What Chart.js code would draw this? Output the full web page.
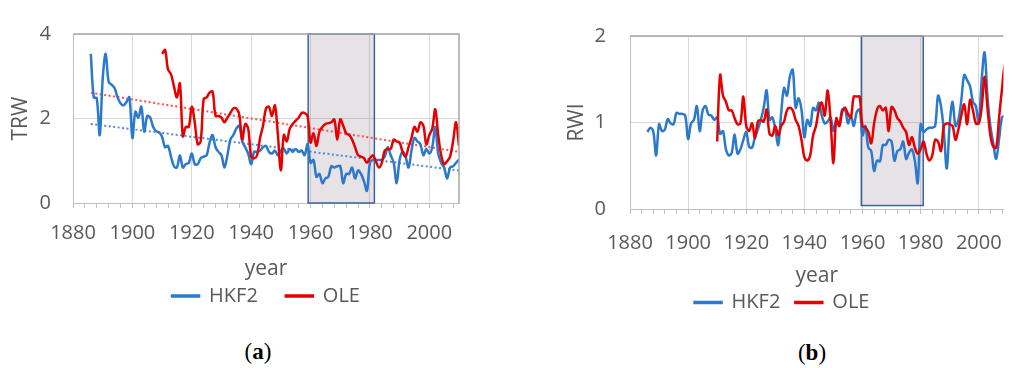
<!DOCTYPE html>
<html>
<head>
<meta charset="utf-8">
<script src="https://cdn.jsdelivr.net/npm/chart.js@4"></script>
<style>
  html, body { margin: 0; padding: 0; background: #fff; overflow: hidden; }
  body { width: 1019px; height: 368px; position: relative; }
  canvas { position: absolute; top: 0; }
  #chartA { left: 0; }
  #chartB { left: 545px; }
  .cap { position: absolute; width: 100px; text-align: center; font: 23px "Liberation Serif", serif; color: #000; line-height: 26px; }
</style>
</head>
<body>
<canvas id="chartA" width="500" height="320"></canvas>
<canvas id="chartB" width="474" height="330"></canvas>
<div class="cap" style="left:208px; top:339px">(<b>a</b>)</div>
<div class="cap" style="left:762px; top:340px">(<b>b</b>)</div>
<script>
// first year of each series
const hkf2Start = 1886;
const oleStart = 1910;

// (a) TRW, one value per year
const trwHKF2 = [
  3.53, 2.50, 2.48, 1.61,
  2.94, 3.53, 2.87, 2.80, 2.72, 2.50, 2.36, 2.31, 2.39, 2.50,
  1.54, 2.16, 2.02, 2.28, 1.69, 2.06, 2.02, 1.80, 1.70, 1.67,
  1.57, 1.32, 1.35, 1.10, 0.87, 0.84, 1.13, 0.84, 0.92, 0.95,
  1.17, 0.92, 0.92, 1.06, 1.10, 1.13, 1.43, 1.61, 1.32, 1.21,
  1.13, 0.84, 1.13, 1.50, 1.61, 1.76, 1.83, 1.46, 1.32, 1.17,
  0.92, 1.21, 1.21, 1.24, 1.32, 1.35, 1.21, 1.17, 1.24, 1.13,
  1.24, 1.28, 1.17, 1.28, 1.21, 1.28, 1.21, 1.24, 1.13, 1.39,
  0.95, 1.02, 0.62, 0.69, 0.47, 0.58, 0.62, 0.87, 0.84, 0.87,
  0.87, 0.47, 0.69, 0.69, 0.84, 0.58, 0.77, 0.69, 0.51, 0.29,
  0.95, 1.02, 1.02, 1.02, 1.02, 1.10, 1.32, 1.13, 0.95, 0.47,
  1.02, 1.21, 1.10, 0.84, 1.24, 1.54, 1.46, 1.39, 1.13, 1.28,
  1.17, 1.32, 1.80, 1.17, 0.95, 0.84, 0.58, 0.84, 0.87, 0.95,
  1.03
];
const trwOLE = [
  3.53, 3.62, 3.16, 3.05, 2.76, 2.50, 2.83, 1.58, 1.80, 1.80,
  2.28, 1.91, 1.39, 1.46, 2.46, 2.50, 2.61, 2.64, 2.06, 2.06,
  2.02, 1.91, 2.02, 2.13, 2.24, 2.24, 2.09, 1.50, 1.87, 1.76,
  1.10, 1.06, 1.13, 1.54, 1.83, 2.24, 2.28, 2.06, 2.31, 1.61,
  0.77, 1.61, 1.46, 1.76, 1.87, 1.95, 2.02, 2.13, 2.13, 2.06,
  1.43, 1.65, 1.35, 1.69, 1.80, 1.87, 1.89, 1.91, 1.98, 1.50,
  1.98, 1.83, 1.65, 1.61, 1.50, 1.32, 1.13, 1.10, 1.06, 0.95,
  1.06, 1.13, 0.99, 0.84, 0.95, 1.24, 1.28, 1.28, 1.50, 1.46,
  1.43, 1.21, 1.10, 1.32, 1.54, 1.80, 1.69, 1.91, 1.83, 1.39,
  1.61, 1.76, 2.22, 1.61, 1.13, 0.92, 0.99, 1.10, 1.46, 1.91,
  1.35
];
// (a) linear trend lines, end points
const trendYears = [1886, 2010];
const trendHKF2 = [1.87, 0.77];
const trendOLE = [2.61, 1.21];

// (b) RWI
const rwiHKF2 = [
  0.89, 0.94, 0.90, 0.62,
  0.98, 0.90, 0.92, 1.04, 0.99, 0.98, 1.11, 1.10, 1.10, 1.08,
  0.81, 0.99, 1.03, 1.19, 0.90, 1.14, 1.19, 1.09, 1.08, 1.03,
  1.06, 0.87, 0.90, 0.69, 0.62, 0.65, 0.86, 0.64, 0.69, 0.80,
  0.89, 0.72, 0.71, 0.83, 0.92, 1.03, 1.17, 1.37, 1.03, 1.06,
  0.92, 0.74, 1.10, 1.40, 1.31, 1.53, 1.61, 1.17, 1.28, 1.15,
  0.83, 1.03, 0.96, 1.17, 1.14, 1.23, 1.08, 0.99, 1.01, 1.06,
  0.90, 1.03, 0.96, 1.15, 1.15, 0.99, 1.08, 0.96, 1.12, 1.15,
  0.85, 0.96, 0.71, 0.67, 0.44, 0.56, 0.55, 0.74, 0.74, 0.80,
  0.78, 0.56, 0.67, 0.69, 0.78, 0.58, 0.65, 0.69, 0.56, 0.30,
  0.98, 0.89, 0.92, 0.94, 0.94, 0.96, 1.31, 1.19, 0.89, 0.47,
  0.98, 1.24, 0.96, 1.03, 1.26, 1.55, 1.49, 1.42, 1.24, 1.19,
  0.99, 1.49, 1.81, 1.30, 0.96, 0.76, 0.58, 0.81, 1.06, 1.08,
  1.10
];
const rwiOLE = [
  0.78, 1.55, 1.31, 1.24, 1.14, 1.14, 1.05, 0.98, 0.99, 1.30,
  0.96, 0.90, 0.99, 0.82, 1.01, 1.03, 1.01, 1.15, 0.87, 0.85,
  0.96, 0.85, 0.96, 1.01, 1.14, 1.17, 1.14, 1.03, 0.96, 0.80,
  0.60, 0.56, 0.62, 0.85, 0.96, 1.15, 1.23, 1.08, 1.37, 1.03,
  0.53, 1.05, 0.96, 1.12, 1.17, 1.10, 1.06, 1.30, 1.30, 1.30,
  0.96, 0.94, 0.89, 0.76, 0.99, 1.15, 1.19, 1.14, 1.17, 0.90,
  1.18, 1.14, 1.05, 1.01, 0.94, 0.89, 0.74, 0.83, 0.71, 0.64,
  0.69, 0.78, 0.64, 0.56, 0.62, 0.80, 0.78, 0.67, 0.96, 0.99,
  0.98, 0.96, 0.80, 0.92, 1.08, 1.21, 0.98, 1.26, 1.14, 0.99,
  0.99, 1.17, 1.53, 1.17, 0.85, 0.72, 0.71, 1.06, 1.39, 1.67,
  1.50
];

// highlighted period [from, to] in years
const shadeA = [1959.2, 1981.5];
const shadeB = [1959.6, 1980.9];

const blue = '#2b79cc';
const red = '#e60000';
const grey = '#595959';

Chart.defaults.font.family = '"Open Sans", sans-serif';
Chart.defaults.color = grey;

function toPoints(start, vals) {
  return vals.map((v, i) => ({ x: start + i, y: v }));
}

// grey box for the highlighted years
const shadeBox = {
  id: 'shadeBox',
  beforeDatasetsDraw(chart, args, opts) {
    const { ctx, scales: { x, y } } = chart;
    const l = x.getPixelForValue(opts.from), r = x.getPixelForValue(opts.to);
    const t = y.getPixelForValue(opts.top), b = y.getPixelForValue(opts.bottom);
    ctx.save();
    ctx.fillStyle = 'rgba(120,95,115,0.18)';
    ctx.fillRect(l, t, r - l, b - t);
    ctx.strokeStyle = '#3a669f';
    ctx.lineWidth = 1.5;
    ctx.strokeRect(l, t, r - l, b - t);
    ctx.restore();
  }
};

// top / right edge of the plot area
const frame = {
  id: 'frame',
  afterDraw(chart, args, opts) {
    const { ctx, chartArea: a } = chart;
    ctx.save();
    ctx.strokeStyle = '#a6a6a6';
    ctx.lineWidth = 1.5;
    ctx.beginPath();
    ctx.moveTo(a.left, a.top);
    ctx.lineTo(a.right, a.top);
    if (opts.right) ctx.lineTo(a.right, a.bottom);
    ctx.stroke();
    ctx.restore();
  }
};

function lineSet(label, color, pts, order) {
  return {
    label: label, data: pts, borderColor: color, backgroundColor: color,
    borderWidth: 2.5, pointRadius: 0, tension: 0.35, fill: false, order: order
  };
}

function trendSet(color, vals) {
  return {
    label: 'trend', data: trendYears.map((yr, i) => ({ x: yr, y: vals[i] })),
    borderColor: color, borderWidth: 2, borderDash: [2, 2.5],
    pointRadius: 0, fill: false, order: 2
  };
}

function makeConfig(p) {
  return {
    type: 'line',
    data: { datasets: p.datasets },
    plugins: [shadeBox, frame],
    options: {
      responsive: false,
      animation: false,
      layout: { padding: p.padding },
      plugins: {
        tooltip: { enabled: false },
        shadeBox: { from: p.shade[0], to: p.shade[1], top: p.yMax, bottom: p.shadeBottom },
        frame: { right: p.frameRight },
        legend: {
          position: 'bottom',
          fullSize: p.legendFull,
          labels: {
            boxWidth: 27, boxHeight: 1, padding: p.legendPad, color: grey,
            font: { size: 20 },
            filter: item => item.text !== 'trend',
            sort: (a, b) => a.datasetIndex - b.datasetIndex
          }
        }
      },
      scales: {
        x: {
          type: 'linear', min: 1880, max: p.xMax,
          afterFit: s => { s.height = p.xHeight; },
          ticks: {
            stepSize: 4, autoSkip: false, maxRotation: 0, includeBounds: false, maxTicksLimit: 100,
            padding: p.xTickPad, font: { size: 20 }, color: grey,
            callback: v => (v % 20 === 0 ? String(v) : '')
          },
          grid: {
            color: c => (c.tick && c.tick.value % 20 === 0 ? '#d9d9d9' : 'rgba(0,0,0,0)'),
            tickColor: '#bfbfbf', tickLength: 5
          },
          border: { color: '#bfbfbf' },
          title: { display: true, text: 'year', font: { size: 21 }, color: grey, padding: { top: 0, bottom: p.xTitlePad } }
        },
        y: {
          min: 0, max: p.yMax,
          afterFit: s => { s.width = p.yWidth; },
          ticks: { stepSize: p.yStep, padding: p.yTickPad, font: { size: 20 }, color: grey },
          grid: { color: '#d9d9d9', drawTicks: false },
          border: { color: '#bfbfbf' },
          title: { display: true, text: p.yTitle, font: { size: 21 }, color: grey, padding: { top: p.yTitlePad, bottom: 0 } }
        }
      }
    }
  };
}

new Chart(document.getElementById('chartA'), makeConfig({
  datasets: [
    lineSet('HKF2', blue, toPoints(hkf2Start, trwHKF2), 1),
    lineSet('OLE', red, toPoints(oleStart, trwOLE), 0),
    trendSet('rgba(70,135,215,0.95)', trendHKF2),
    trendSet('rgba(255,70,70,0.95)', trendOLE)
  ],
  padding: { left: 5, right: 41, top: 22, bottom: 4 },
  shade: shadeA, shadeBottom: 0, frameRight: true,
  legendFull: false, legendPad: 28,
  xMax: 2010, xHeight: 55, xTickPad: 13, xTitlePad: -23.6,
  yMax: 4, yStep: 2, yWidth: 68, yTickPad: 22, yTitle: 'TRW', yTitlePad: 3.4
}));

new Chart(document.getElementById('chartB'), makeConfig({
  datasets: [
    lineSet('HKF2', blue, toPoints(hkf2Start, rwiHKF2), 1),
    lineSet('OLE', red, toPoints(oleStart, rwiOLE), 0)
  ],
  padding: { left: 0, right: 0, top: 23, bottom: 7.5 },
  shade: shadeB, shadeBottom: 0.04, frameRight: false,
  legendFull: true, legendPad: 15,
  xMax: 2008.5, xHeight: 68.5, xTickPad: 17, xTitlePad: -11.1,
  yMax: 2, yStep: 1, yWidth: 85, yTickPad: 24, yTitle: 'RWI', yTitlePad: 19.4
}));
</script>
</body>
</html>
